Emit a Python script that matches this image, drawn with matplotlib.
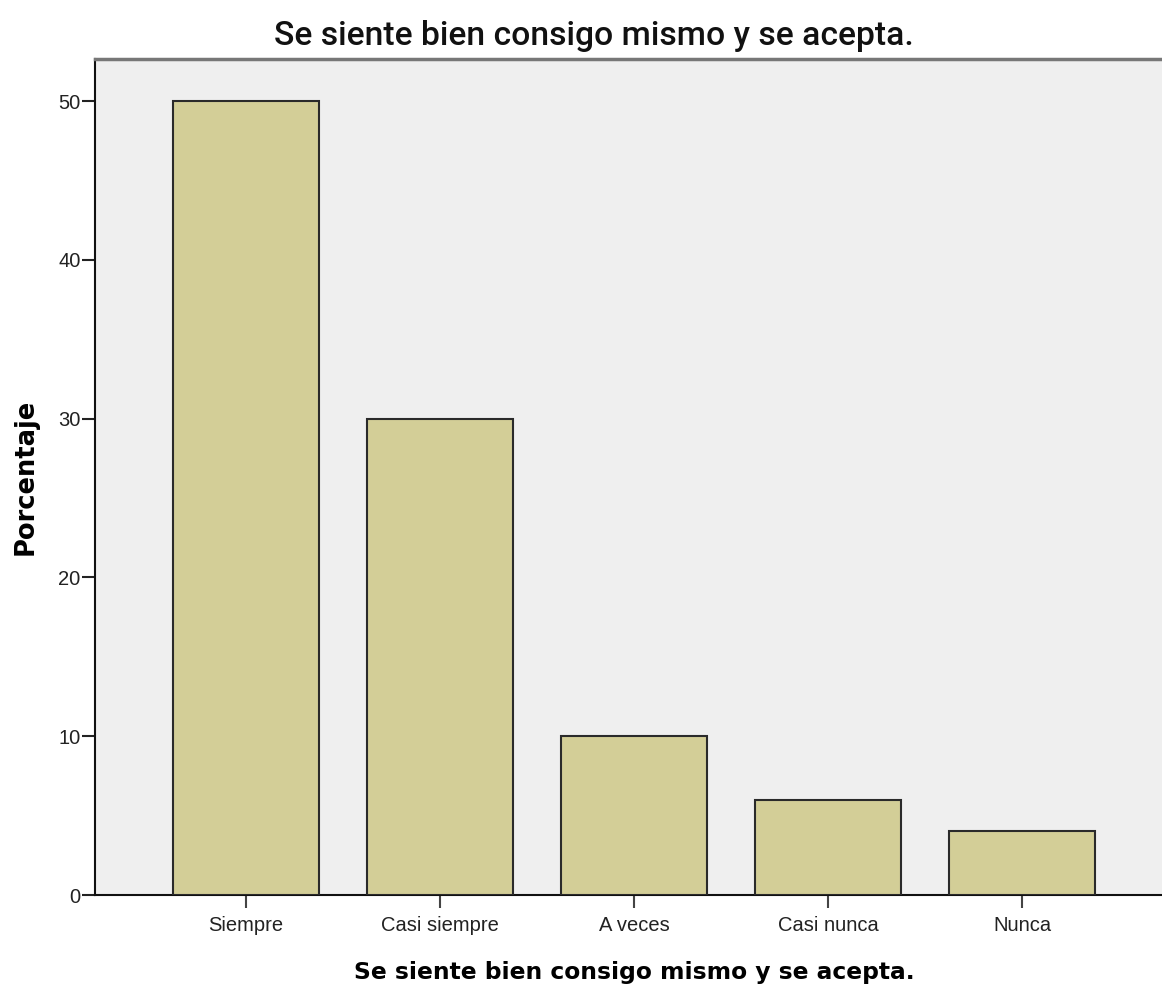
import matplotlib
matplotlib.use("Agg")
import matplotlib.pyplot as plt

categories = ["Siempre", "Casi siempre", "A veces", "Casi nunca", "Nunca"]
values = [50, 30, 10, 6, 4]
yticks = [0, 10, 20, 30, 40, 50]
title = "Se siente bien consigo mismo y se acepta."
xlabel = "Se siente bien consigo mismo y se acepta."
ylabel = "Porcentaje"

W, H = 1162, 988
fig = plt.figure(figsize=(W / 100, H / 100), dpi=100)
ax = fig.add_axes([95 / W, 1 - 895 / H, 1078 / W, (895 - 59) / H])
ax.set_facecolor("#EFEFEF")

x = list(range(len(categories)))
ax.bar(x, values, width=0.75, color="#D3CE97", edgecolor="#2a2a2a", linewidth=1.5, zorder=3)

ax.set_xlim(-0.778, len(categories) - 1 + 0.778)
ax.set_ylim(0, 52.65)
ax.set_xticks(x)
ax.set_xticklabels(categories, fontsize=14.5, family="Liberation Sans", color="#222222")
ax.set_yticks(yticks)
ax.set_yticklabels([str(v) for v in yticks], fontsize=14.5, family="Liberation Sans", color="#222222")
ax.tick_params(axis="y", direction="out", length=9.5, width=1.5, pad=1, color="#222222")
ax.tick_params(axis="x", direction="out", length=9, width=1.5, pad=6, color="#444444")

for s in ["left", "bottom"]:
    ax.spines[s].set_linewidth(1.5)
    ax.spines[s].set_color("#111111")
ax.spines["right"].set_visible(False)
ax.spines["top"].set_color("#777777")
ax.spines["top"].set_linewidth(2.5)

ax.set_xlabel(xlabel, fontsize=16.8, fontweight="bold", family="DejaVu Sans", labelpad=19)
ax.set_ylabel(ylabel, fontsize=18.5, fontweight="bold", family="DejaVu Sans", labelpad=14)

fig.text(594 / W, 1 - 36 / H, title, ha="center", va="center", fontsize=24.2,
         family="Roboto", fontweight="medium", color="#111111")

fig.savefig("out.png", dpi=100)
